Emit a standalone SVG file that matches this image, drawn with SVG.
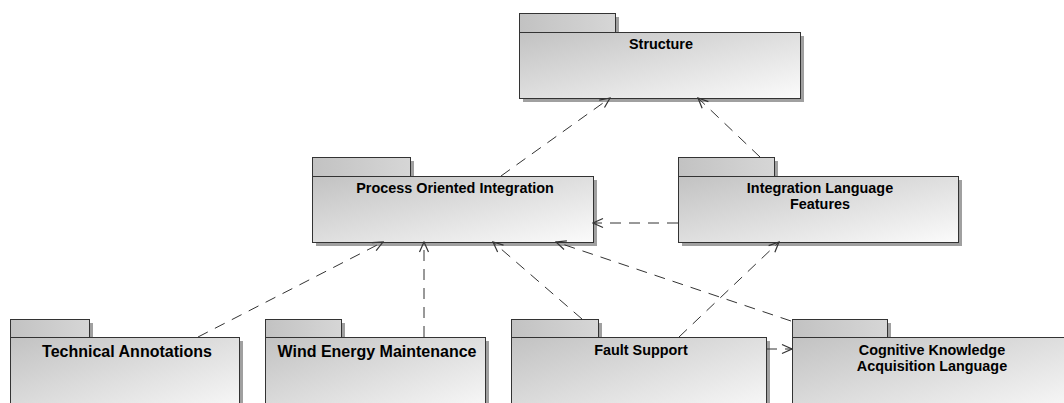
<svg xmlns="http://www.w3.org/2000/svg" width="1064" height="403" viewBox="0 0 1064 403">
<defs>
<linearGradient id="body" x1="0" y1="0" x2="1" y2="1">
<stop offset="0" stop-color="#c2c2c2"/>
<stop offset="1" stop-color="#fbfbfb"/>
</linearGradient>
<linearGradient id="tab" x1="0" y1="0" x2="1" y2="0">
<stop offset="0" stop-color="#c2c2c2"/>
<stop offset="1" stop-color="#d6d6d6"/>
</linearGradient>
<marker id="open" markerUnits="userSpaceOnUse" markerWidth="12" markerHeight="12" viewBox="0 0 12 12" refX="11" refY="6" orient="auto">
<path d="M1,1.5 L11,6 L1,10.5" fill="none" stroke="#333" stroke-width="1.2"/>
</marker>
</defs>
<style>
.sh{fill:#a0a0a0}
.tab{fill:url(#tab);stroke:#333;stroke-width:1}
.bd{fill:url(#body);stroke:#333;stroke-width:1}
.t{font-family:"Liberation Sans",Arial,sans-serif;font-weight:bold;font-size:14.4px;fill:#000;text-anchor:middle}
.tl{font-size:16px}
.dep{fill:none;stroke:#333;stroke-width:1;stroke-dasharray:11,8;marker-end:url(#open)}
</style>
<rect width="1064" height="403" fill="#fff"/>

<g id="structure">
<rect class="sh" x="523" y="17" width="96" height="19"/>
<rect class="sh" x="523" y="36" width="281" height="66"/>
<rect class="tab" x="519.5" y="13.5" width="96" height="19"/>
<rect class="bd" x="519.5" y="32.5" width="281" height="66"/>
<text class="t" x="661" y="49">Structure</text>
</g>

<g id="process-oriented-integration">
<rect class="sh" x="316" y="161" width="98" height="19"/>
<rect class="sh" x="316" y="180" width="281" height="66"/>
<rect class="tab" x="312.5" y="157.5" width="98" height="19"/>
<rect class="bd" x="312.5" y="176.5" width="281" height="66"/>
<text class="t" x="455" y="193">Process Oriented Integration</text>
</g>

<g id="integration-language-features">
<rect class="sh" x="682" y="161" width="96" height="19"/>
<rect class="sh" x="682" y="180" width="280" height="66"/>
<rect class="tab" x="678.5" y="157.5" width="96" height="19"/>
<rect class="bd" x="678.5" y="176.5" width="280" height="66"/>
<text class="t" x="820" y="193">Integration Language</text>
<text class="t" x="820" y="209">Features</text>
</g>

<g id="technical-annotations">
<rect class="sh" x="14" y="323" width="79" height="18"/>
<rect class="sh" x="14" y="341" width="229" height="80"/>
<rect class="tab" x="10.5" y="319.5" width="79" height="18"/>
<rect class="bd" x="10.5" y="337.5" width="229" height="80"/>
<text class="t tl" x="127" y="357">Technical Annotations</text>
</g>

<g id="wind-energy-maintenance">
<rect class="sh" x="269" y="323" width="76" height="18"/>
<rect class="sh" x="269" y="341" width="220" height="80"/>
<rect class="tab" x="265.5" y="319.5" width="76" height="18"/>
<rect class="bd" x="265.5" y="337.5" width="220" height="80"/>
<text class="t tl" x="377" y="357">Wind Energy Maintenance</text>
</g>

<g id="fault-support">
<rect class="sh" x="515" y="323" width="87" height="18"/>
<rect class="sh" x="515" y="341" width="255" height="80"/>
<rect class="tab" x="511.5" y="319.5" width="87" height="18"/>
<rect class="bd" x="511.5" y="337.5" width="255" height="80"/>
<text class="t" x="641" y="355">Fault Support</text>
</g>

<g id="cognitive-knowledge-acquisition-language">
<rect class="sh" x="796" y="323" width="95" height="18"/>
<rect class="sh" x="796" y="341" width="280" height="80"/>
<rect class="tab" x="792.5" y="319.5" width="95" height="18"/>
<rect class="bd" x="792.5" y="337.5" width="280" height="80"/>
<text class="t" x="932" y="355">Cognitive Knowledge</text>
<text class="t" x="932" y="371">Acquisition Language</text>
</g>

<g id="connectors">
<path class="dep" d="M501,176 L610,98"/>
<path class="dep" d="M760,157 L698,98"/>
<path class="dep" d="M678,223 L593,223"/>
<path class="dep" d="M198,337 L383,242"/>
<path class="dep" d="M424,337 L424,242"/>
<path class="dep" d="M582,319 L493,242"/>
<path class="dep" d="M791,321 L556,242"/>
<path class="dep" d="M766,349 L792,349"/>
<path class="dep" d="M679,337 L779,242"/>
</g>
</svg>
